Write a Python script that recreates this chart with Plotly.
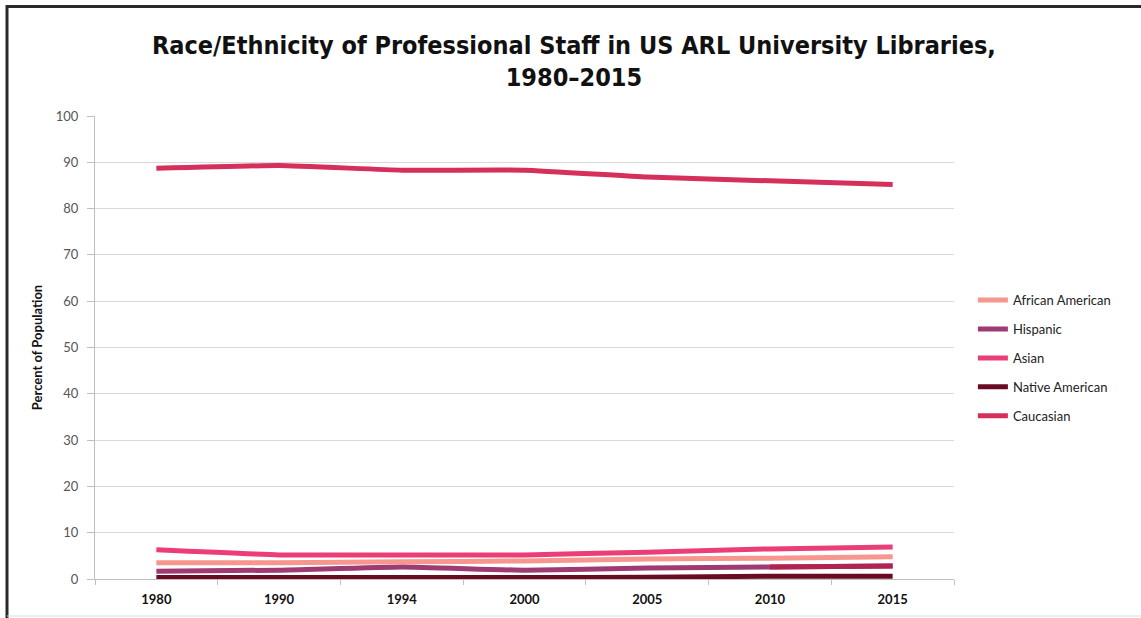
import plotly.graph_objects as go

years = ["1980", "1990", "1994", "2000", "2005", "2010", "2015"]
african_american = [3.5, 3.5, 3.7, 3.9, 4.3, 4.5, 4.8]
hispanic = [1.7, 1.9, 2.6, 1.9, 2.4, 2.6, 2.8]
asian = [6.3, 5.2, 5.2, 5.2, 5.8, 6.5, 6.9]
native_american = [0.3, 0.3, 0.3, 0.3, 0.4, 0.6, 0.6]
caucasian = [88.7, 89.3, 88.3, 88.3, 86.8, 86.0, 85.2]

y_ticks = [0, 10, 20, 30, 40, 50, 60, 70, 80, 90, 100]

series = [
    ("African American", african_american, "#F7968F"),
    ("Hispanic", hispanic, "#9E3B72"),
    ("Asian", asian, "#EC3E76"),
    ("Native American", native_american, "#6A0B22"),
    ("Caucasian", caucasian, "#D52F5B"),
]

FONT = "Liberation Sans Narrow, DejaVu Sans Condensed, Arial Narrow, sans-serif"
FONT2 = "Lato, Open Sans, sans-serif"

fig = go.Figure()
for name, vals, col in series:
    fig.add_trace(go.Scatter(
        x=years, y=vals, name=name, mode="lines",
        line=dict(color=col, width=5, shape="spline", smoothing=0.4),
        legendgroup=name,
    ))

# darker tail on the Hispanic line as in the original
fig.add_trace(go.Scatter(
    x=years[5:], y=hispanic[5:], mode="lines", showlegend=False,
    line=dict(color="#B22450", width=5), hoverinfo="skip",
))

fig.update_layout(
    width=1141, height=618,
    margin=dict(l=95, r=187, t=116, b=39),
    paper_bgcolor="white", plot_bgcolor="white",
    title=dict(
        text="<b>Race/Ethnicity of Professional Staff in US ARL University Libraries,<br>1980–2015</b>",
        x=0.503, xanchor="center", y=0.913, yanchor="top",
        font=dict(family=FONT, size=25, color="#111111"),
    ),
    legend=dict(
        x=1.022, xanchor="left", y=0.477, yanchor="middle",
        font=dict(family=FONT2, size=13, color="#222"),
        tracegroupgap=9, itemwidth=30, bgcolor="rgba(0,0,0,0)",
    ),
    showlegend=True,
)

fig.update_xaxes(
    type="category", range=[-0.5, 6.5], showgrid=False, showline=True,
    linecolor="#BFBFBF", linewidth=1, ticks="outside", tickson="boundaries",
    ticklen=5, tickcolor="#BFBFBF", ticklabelstandoff=8, automargin=False,
    tickfont=dict(family=FONT2, size=13, color="#111"),
    tickprefix="<b>", ticksuffix="</b>",
    zeroline=False, fixedrange=True,
)
fig.update_yaxes(
    range=[0, 100], tickvals=y_ticks, showgrid=True, gridcolor="#D9D9D9",
    gridwidth=1, showline=True, linecolor="#BFBFBF", linewidth=1,
    ticks="outside", ticklen=7, tickcolor="#BFBFBF", ticklabelstandoff=6,
    tickfont=dict(family=FONT2, size=13, color="#555"),
    title=dict(text="<b>Percent of Population</b>", standoff=10,
               font=dict(family=FONT2, size=13, color="#111")),
    zeroline=False, fixedrange=True, automargin=False,
)

# picture frame: dark top and left edges, light bottom edge
pw = 1141 - 95 - 187
ph = 618 - 116 - 39
def px(x):
    return (x - 95) / pw
def py(y):
    return (618 - 39 - y) / ph

fig.add_shape(type="line", xref="paper", yref="paper",
              x0=px(6), x1=px(1141), y0=py(6.5), y1=py(6.5),
              line=dict(color="#2a2a2a", width=3))
fig.add_shape(type="line", xref="paper", yref="paper",
              x0=px(7), x1=px(7), y0=py(5), y1=py(618),
              line=dict(color="#2a2a2a", width=3))
fig.add_shape(type="line", xref="paper", yref="paper",
              x0=px(7), x1=px(1141), y0=py(616), y1=py(616),
              line=dict(color="#dddddd", width=1))

fig.write_html("out.html", config={"displayModeBar": False},
               post_script="document.body.style.margin='0';document.body.style.overflow='hidden';")
